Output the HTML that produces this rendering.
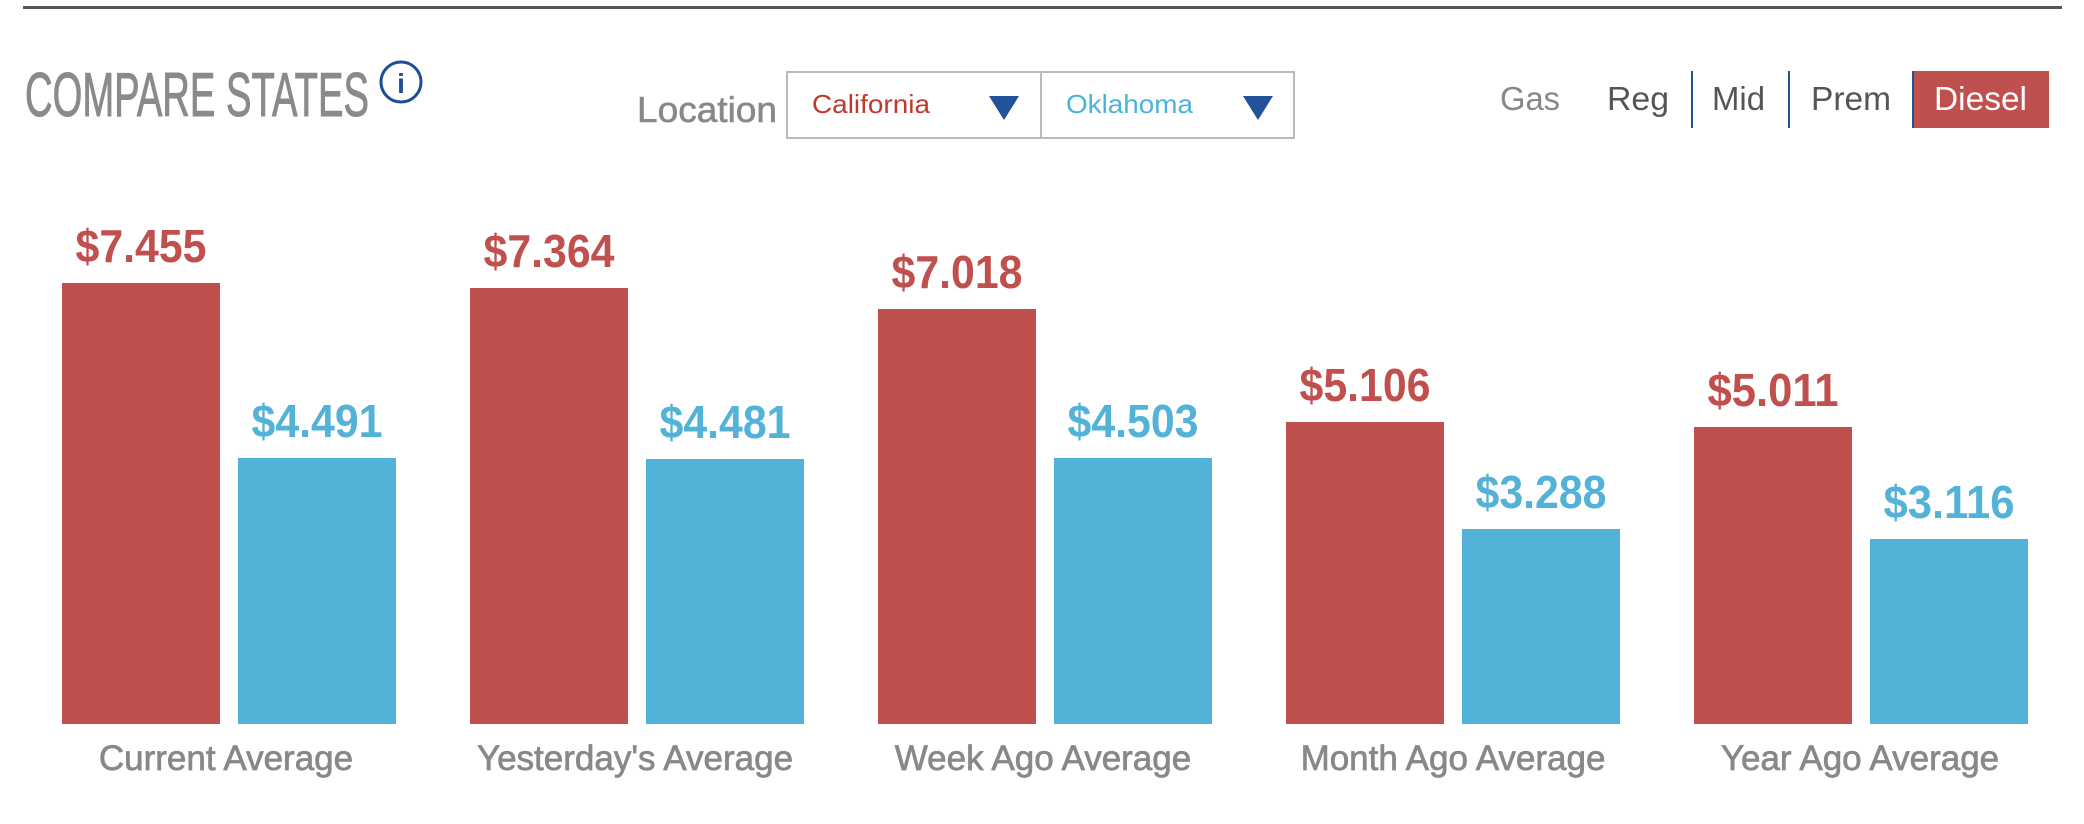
<!DOCTYPE html>
<html><head><meta charset="utf-8"><style>
html,body{margin:0;padding:0;background:#fff;width:2084px;height:824px;overflow:hidden}
svg{display:block}
text{font-family:"Liberation Sans",Arial,sans-serif}
</style></head><body>
<svg width="2084" height="824" viewBox="0 0 2084 824" xmlns="http://www.w3.org/2000/svg">
<rect x="23" y="6" width="2039" height="3" fill="#555"/>
<text x="25" y="116" font-size="62" fill="#8a8a8a" stroke="#8a8a8a" stroke-width="1" textLength="344" lengthAdjust="spacingAndGlyphs">COMPARE STATES</text>
<circle cx="401" cy="82" r="20" fill="none" stroke="#1f4e96" stroke-width="3"/>
<text x="401" y="93" font-size="28" font-weight="bold" fill="#1f4e96" text-anchor="middle" font-family="Liberation Serif">i</text>
<text x="637" y="122" font-size="36" fill="#888" stroke="#888" stroke-width="0.6" textLength="140" lengthAdjust="spacingAndGlyphs">Location</text>
<rect x="787" y="72" width="254" height="66" fill="#fff" stroke="#bbb" stroke-width="2"/>
<rect x="1041" y="72" width="253" height="66" fill="#fff" stroke="#bbb" stroke-width="2"/>
<text x="812" y="113" font-size="26" fill="#c0392b" textLength="118" lengthAdjust="spacingAndGlyphs">California</text>
<polygon points="989,96 1019,96 1004,120" fill="#22529a"/>
<text x="1066" y="113" font-size="26" fill="#4bb3d9" textLength="127" lengthAdjust="spacingAndGlyphs">Oklahoma</text>
<polygon points="1243,96 1273,96 1258,120" fill="#22529a"/>
<text x="1500" y="110" font-size="33" fill="#888" textLength="60" lengthAdjust="spacingAndGlyphs">Gas</text>
<text x="1607" y="110" font-size="33" fill="#555" textLength="62" lengthAdjust="spacingAndGlyphs">Reg</text>
<rect x="1691" y="71" width="2" height="57" fill="#22529a"/>
<text x="1712" y="110" font-size="33" fill="#555" textLength="53" lengthAdjust="spacingAndGlyphs">Mid</text>
<rect x="1788" y="71" width="2" height="57" fill="#22529a"/>
<text x="1811" y="110" font-size="33" fill="#555" textLength="80" lengthAdjust="spacingAndGlyphs">Prem</text>
<rect x="1912" y="71" width="137" height="57" fill="#c0504d"/>
<rect x="1912" y="71" width="2" height="57" fill="#22529a"/>
<text x="1934" y="110" font-size="33" fill="#fff" textLength="93" lengthAdjust="spacingAndGlyphs">Diesel</text>

<g fill="#c0504d">
<rect x="62" y="283" width="158" height="441"/>
<rect x="470" y="288" width="158" height="436"/>
<rect x="878" y="309" width="158" height="415"/>
<rect x="1286" y="422" width="158" height="302"/>
<rect x="1694" y="427" width="158" height="297"/>
</g>
<g fill="#53b2d7">
<rect x="238" y="458" width="158" height="266"/>
<rect x="646" y="459" width="158" height="265"/>
<rect x="1054" y="458" width="158" height="266"/>
<rect x="1462" y="529" width="158" height="195"/>
<rect x="1870" y="539" width="158" height="185"/>
</g>
<g font-size="46" font-weight="bold" text-anchor="middle" fill="#c0504d">
<text x="141" y="262" textLength="131" lengthAdjust="spacingAndGlyphs">$7.455</text>
<text x="549" y="267" textLength="131" lengthAdjust="spacingAndGlyphs">$7.364</text>
<text x="957" y="288" textLength="131" lengthAdjust="spacingAndGlyphs">$7.018</text>
<text x="1365" y="401" textLength="131" lengthAdjust="spacingAndGlyphs">$5.106</text>
<text x="1773" y="406" textLength="131" lengthAdjust="spacingAndGlyphs">$5.011</text>
</g>
<g font-size="46" font-weight="bold" text-anchor="middle" fill="#53b2d7">
<text x="317" y="437" textLength="131" lengthAdjust="spacingAndGlyphs">$4.491</text>
<text x="725" y="438" textLength="131" lengthAdjust="spacingAndGlyphs">$4.481</text>
<text x="1133" y="437" textLength="131" lengthAdjust="spacingAndGlyphs">$4.503</text>
<text x="1541" y="508" textLength="131" lengthAdjust="spacingAndGlyphs">$3.288</text>
<text x="1949" y="518" textLength="131" lengthAdjust="spacingAndGlyphs">$3.116</text>
</g>
<g font-size="35" fill="#888" stroke="#888" stroke-width="0.7" text-anchor="middle">
<text x="226" y="770">Current Average</text>
<text x="635" y="770">Yesterday's Average</text>
<text x="1043" y="770">Week Ago Average</text>
<text x="1453" y="770">Month Ago Average</text>
<text x="1860" y="770">Year Ago Average</text>
</g>
</svg>
</body></html>
